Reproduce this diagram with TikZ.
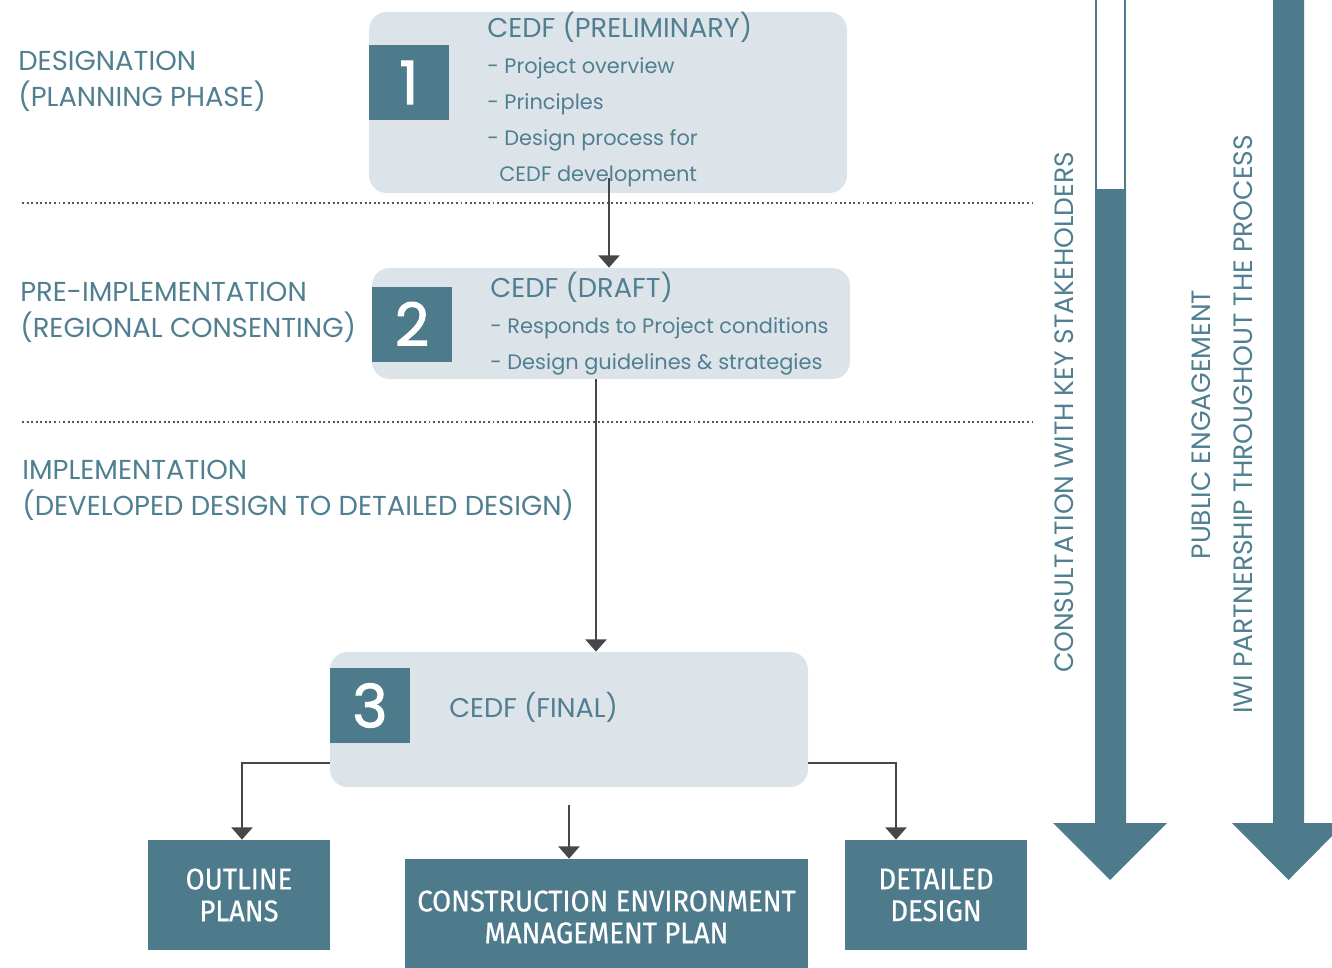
\documentclass[tikz,border=0pt]{standalone}
\usepackage{fontspec}
\usepackage{tikz}
\usetikzlibrary{arrows.meta}

\newfontfamily\boxfont[FakeBold=0.6,FakeStretch=0.92]{Fira Sans}
\newfontfamily\gothic{Poppins}
\newfontfamily\numfont[FakeBold=1.6]{Poppins}
\newdimen\dpx \dpx=0.02cm

\definecolor{cedfblue}{HTML}{4E7B8C}
\definecolor{cedfpale}{HTML}{DCE4EA}
\definecolor{cedftext}{HTML}{4F7F91}
\definecolor{linegrey}{HTML}{474749}
\definecolor{dotgrey}{HTML}{555555}

\begin{document}
\begin{tikzpicture}[x=0.02cm, y=-0.02cm,
  stage/.style={fill=cedfpale, rounded corners=10pt, inner sep=0pt, minimum width=478\dpx},
  stagenum/.style={fill=cedfblue, text=white, inner sep=0pt, minimum width=80\dpx, minimum height=75\dpx, font=\numfont\fontsize{34}{34}\selectfont},
  stagetext/.style={text=cedftext, align=left, inner sep=0pt, anchor=north west, font=\gothic\fontsize{11.9}{20.4}\selectfont},
  phase/.style={text=cedftext, align=left, inner sep=0pt, anchor=west, font=\gothic\fontsize{15.6}{20.4}\selectfont},
  output/.style={fill=cedfblue, text=white, align=center, inner sep=0pt, font=\boxfont\fontsize{17}{18.1}\selectfont},
  conn/.style={draw=linegrey, line width=1.2pt, -{Triangle[width=12pt,length=7pt]}},
  dotline/.style={draw=dotgrey, line width=1.1pt, dash pattern=on 1.1pt off 1.5pt}]

\useasboundingbox (0,0) rectangle (1332,967);
\clip (0,0) rectangle (1332,967);

% phases
\node[phase] (ph1) at (18,81) {DESIGNATION\\(PLANNING PHASE)};
\node[phase] (ph2) at (20,312) {PRE-IMPLEMENTATION\\(REGIONAL CONSENTING)};
\node[phase] (ph3) at (22,490) {IMPLEMENTATION\\(DEVELOPED DESIGN TO DETAILED DESIGN)};
\draw[dotline] (22,203) -- (1035,203);
\draw[dotline] (22,422) -- (1035,422);

% stages
\node[stage, minimum height=181\dpx] (f1) at (608,102.5) {};
\node[stagenum] (n1) at (409,82.5) {1};
\node[stagetext] (t1) at (487,12) {{\fontsize{15.5}{20.4}\selectfont CEDF (PRELIMINARY)}\\
  - Project overview\\- Principles\\- Design process for\\\hspace*{12\dpx}CEDF development};

\node[stage, minimum height=111\dpx] (f2) at (611,323.5) {};
\node[stagenum] (n2) at (412,324) {2};
\node[stagetext] (t2) at (490,272) {{\fontsize{15.5}{20.4}\selectfont CEDF (DRAFT)}\\
  - Responds to Project conditions\\- Design guidelines \& strategies};

\node[stage, minimum height=135\dpx] (f3) at (569,719.5) {};
\node[stagenum] (n3) at (370,705.5) {3};
\node[stagetext, anchor=west, font=\gothic\fontsize{15.4}{20.4}\selectfont] (t3) at (449,707) {CEDF (FINAL)};

% outputs
\node[output, minimum width=182\dpx, minimum height=110\dpx] (outline) at (239,895) {OUTLINE\\PLANS};
\node[output, minimum width=403\dpx, minimum height=116\dpx] (cemp) at (606.5,917) {CONSTRUCTION ENVIRONMENT\\MANAGEMENT PLAN};
\node[output, minimum width=182\dpx, minimum height=110\dpx] (detailed) at (936,895) {DETAILED\\DESIGN};

% flow
\coordinate (a1) at (609,178);
\coordinate (a2) at (596,379);
\draw[conn] (a1) -- (a1 |- f2.north);
\draw[conn] (a2) -- (a2 |- f3.north);
\draw[conn] ([yshift=-43.5\dpx]f3.west) -| ([xshift=3\dpx]outline.north);
\draw[conn] ([yshift=-43.5\dpx]f3.east) -| ([xshift=-40\dpx]detailed.north);
\draw[conn] ([yshift=-18\dpx]f3.south) -- (f3.south |- cemp.north);

% side arrows
\draw[cedfblue, line width=1.2pt, fill=white] (1096,-5) rectangle (1125,190);
\fill[cedfblue] (1095,190) -- (1126,190) -- (1126,823) -- (1167,823) -- (1110,880)
  -- (1053,823) -- (1095,823) -- cycle;
\fill[cedfblue] (1273,-5) -- (1304,-5) -- (1304,823) -- (1345,823) -- (1288.5,880)
  -- (1232,823) -- (1273,823) -- cycle;
\node[phase, anchor=center, rotate=90, font=\gothic\fontsize{15.1}{20.4}\selectfont] (consult) at (1064,412.5) {CONSULTATION WITH KEY STAKEHOLDERS};
\node[phase, anchor=center, align=center, rotate=90, font=\gothic\fontsize{15.1}{23.8}\selectfont] (iwi) at (1222,424.5)
  {PUBLIC ENGAGEMENT\\IWI PARTNERSHIP THROUGHOUT THE PROCESS};
\end{tikzpicture}
\end{document}
